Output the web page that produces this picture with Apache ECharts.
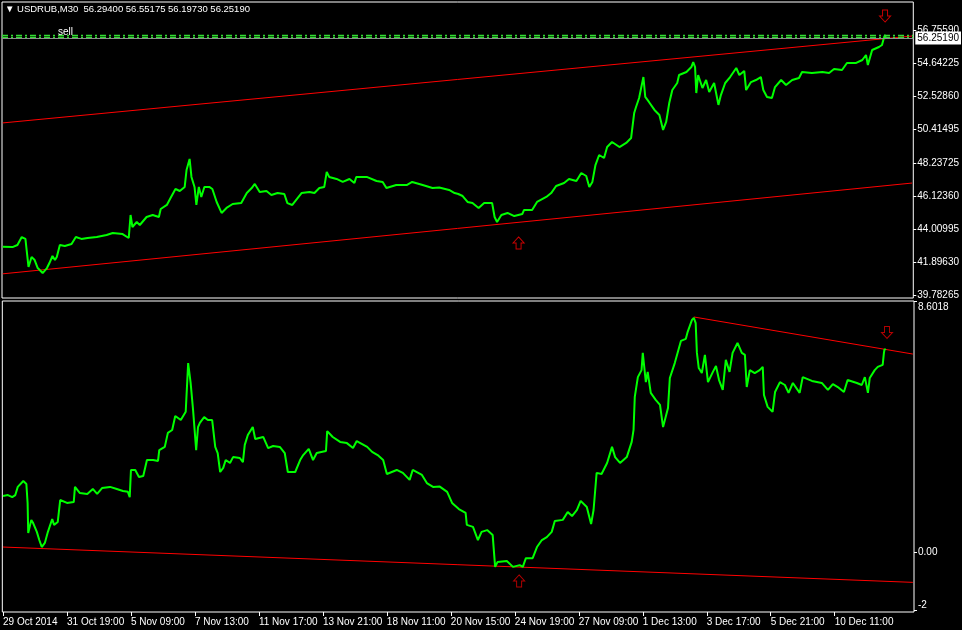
<!DOCTYPE html>
<html>
<head>
<meta charset="utf-8">
<style>
html,body{margin:0;padding:0;background:#000;}
#c{width:962px;height:630px;}
</style>
<script src="https://cdn.jsdelivr.net/npm/echarts@6.0.0/dist/echarts.min.js"></script>
</head>
<body>
<div id="c"></div>
<script>
// ---- data ----
const xLabels = ['29 Oct 2014','31 Oct 19:00','5 Nov 09:00','7 Nov 13:00','11 Nov 17:00','13 Nov 21:00','18 Nov 11:00','20 Nov 15:00','24 Nov 19:00','27 Nov 09:00','1 Dec 13:00','3 Dec 17:00','5 Dec 21:00','10 Dec 11:00'];
const barsPerLabel = 104;
const priceTicks = [56.75590,54.64225,52.52860,50.41495,48.23725,46.12360,44.00995,41.89630,39.78265];
const oscTicks = [8.6018, 0, -2];
const oscTickLabels = ['8.6018','0.00','-2'];

const priceBars = [0,16,24,31,37,39,42,47,52,57,65,72,76,81,85,88,93,101,112,119,128,138,153,169,179,195,205,208,211,218,223,234,244,254,257,267,273,281,288,296,299,304,307,312,315,319,323,328,336,341,348,356,364,374,388,397,405,410,418,429,437,447,458,463,471,486,499,507,515,523,527,531,543,553,564,572,575,592,608,618,624,640,657,666,683,699,710,726,735,741,748,756,764,774,783,796,800,804,811,821,832,845,848,861,869,884,892,900,913,921,933,941,949,954,959,964,970,978,983,991,1003,1014,1022,1024,1027,1030,1035,1042,1045,1051,1060,1068,1074,1079,1084,1089,1097,1100,1112,1120,1123,1126,1128,1131,1138,1144,1149,1157,1164,1168,1175,1183,1193,1198,1206,1209,1217,1225,1233,1237,1243,1251,1256,1266,1274,1284,1295,1300,1316,1333,1344,1352,1365,1373,1388,1398,1404,1407,1414,1425,1430,1433,1435,1436];
const priceValues = [42.91,42.89,43.02,43.53,43.41,42.70,41.62,42.26,42.06,41.55,41.23,41.55,41.87,42.32,42.06,42.26,43.02,42.96,43.09,43.53,43.41,43.47,43.53,43.66,43.79,43.72,43.47,44.94,44.17,44.49,44.30,44.81,44.94,44.81,45.32,45.58,46.02,46.60,46.47,46.73,47.81,48.52,47.37,46.73,45.58,46.73,46.09,46.73,46.73,46.60,45.77,45.07,45.39,45.64,45.70,46.34,46.66,46.92,46.41,46.47,46.22,46.34,46.28,45.70,45.58,46.34,46.41,46.34,46.66,46.73,47.69,47.37,47.24,47.05,47.24,46.98,47.37,47.37,47.11,47.05,46.66,46.85,46.85,47.05,46.85,46.66,46.69,46.54,46.34,46.28,46.15,45.77,45.70,45.39,45.70,45.70,44.81,44.49,44.94,45.07,44.87,45.00,45.26,45.26,45.77,46.09,46.34,46.79,46.98,47.24,47.11,47.62,47.43,46.73,47.05,48.13,48.77,48.58,49.28,49.60,49.28,49.54,49.86,50.50,51.45,51.84,52.41,53.75,52.48,52.16,51.65,51.33,50.37,50.88,52.09,52.92,53.37,53.88,54.07,54.39,54.71,54.39,52.73,53.88,53.05,53.56,52.80,53.37,51.97,52.60,53.37,53.75,54.33,53.88,54.14,52.92,53.43,53.56,53.75,52.92,52.48,52.41,53.11,53.56,53.24,53.56,53.69,54.07,54.01,54.07,54.01,54.26,54.20,54.65,54.65,54.84,55.16,54.52,55.48,55.67,55.80,56.25,56.44,56.25];

const oscBars = [0,8,15,20,24,33,38,40,41,46,49,55,59,63,68,73,80,83,89,93,104,115,117,125,137,146,153,161,174,185,195,203,206,208,215,221,228,234,244,252,254,263,268,275,280,289,297,301,305,309,314,317,320,327,333,340,345,349,353,358,362,369,374,385,390,393,398,406,410,423,431,439,450,458,463,475,483,488,497,504,510,525,527,536,548,559,569,575,592,600,609,618,624,640,650,661,666,681,689,699,710,722,730,741,743,752,754,764,772,778,787,796,800,804,819,829,840,845,850,861,868,876,884,892,897,910,918,925,933,939,949,956,960,965,973,982,990,995,1003,1014,1022,1025,1027,1032,1038,1040,1045,1048,1053,1061,1068,1073,1081,1084,1092,1097,1102,1110,1113,1120,1123,1126,1128,1131,1136,1141,1146,1154,1159,1164,1170,1175,1181,1186,1194,1201,1206,1209,1214,1222,1230,1235,1237,1243,1251,1255,1263,1271,1277,1284,1295,1300,1315,1331,1341,1349,1357,1367,1373,1388,1396,1401,1406,1409,1417,1422,1430,1432,1433,1435];
const oscValues = [1.93,1.96,1.89,1.96,2.24,2.44,2.34,1.69,0.66,1.11,1.00,0.70,0.42,0.18,0.32,0.70,1.14,0.94,1.04,1.79,1.69,1.72,2.24,2.03,2.00,2.17,2.00,2.20,2.24,2.17,2.10,2.07,1.89,2.82,2.82,2.58,2.61,3.16,3.16,3.13,3.50,3.61,4.09,4.19,4.67,4.53,4.81,6.48,5.80,4.87,3.50,4.29,4.43,4.63,4.53,4.53,3.61,3.40,2.75,2.89,3.16,3.06,3.26,3.23,3.09,3.68,4.02,4.29,3.88,3.95,3.57,3.64,3.61,3.40,2.75,2.75,3.16,3.33,3.54,3.16,3.40,3.47,4.15,3.95,3.78,3.74,3.57,3.81,3.61,3.44,3.33,3.16,2.68,2.82,2.72,2.48,2.82,2.65,2.37,2.24,2.25,2.07,1.69,1.48,1.45,1.35,0.94,0.87,0.42,0.70,0.76,0.59,-0.50,-0.33,-0.30,-0.50,-0.44,-0.50,-0.20,-0.20,0.18,0.42,0.52,0.70,1.07,1.11,1.38,1.24,1.45,1.76,1.55,0.97,1.45,2.72,2.68,3.06,3.61,3.26,3.06,3.26,3.78,4.19,5.32,6.00,6.24,6.83,5.83,6.18,5.46,5.22,5.05,4.29,4.94,5.97,6.48,6.86,7.24,7.31,7.55,7.96,8.03,7.85,6.83,6.31,6.14,6.76,5.83,6.18,6.38,5.90,5.56,6.59,6.18,6.83,7.17,6.83,6.76,5.66,6.24,6.14,6.24,6.35,5.39,4.98,4.81,5.49,5.83,5.73,5.46,5.80,5.46,6.00,5.87,5.80,5.56,5.76,5.66,5.49,5.90,5.80,5.73,6.00,5.46,5.97,6.24,6.35,6.42,6.83,6.96,6.93];

// trend lines [bar, value]
const priceUpperLine = [[0, 50.82], [1479, 56.37]];
const priceLowerLine = [[0, 41.18], [1479, 46.98]];
const oscLowerLine = [[0, 0.18], [1479, -1.03]];
const oscUpperLine = [[1123, 8.06], [1479, 6.79]];

// signal arrows
const priceArrowBars = [1435, 839];
const priceArrowValues = [57.65, 43.15];
const oscArrowBars = [1437, 839];
const oscArrowValues = [7.53, -0.98];
const arrowDirs = ['down', 'up'];

// horizontal price levels
const bidPrice = 56.2519;
const sellLevels = [56.4435, 56.3158];

// ---- chart ----
const FONT = 'Liberation Sans';
const xTicks = xLabels.map((_, i) => i * barsPerLabel);
const zip = (a, b) => a.map((v, i) => [v, b[i]]);
const arrowPath = 'path://M5.5,0 L11,6 L8,6 L8,12 L3,12 L3,6 L0,6 Z';
const arrowData = (bars, vals) => bars.map((b, i) => ({
  value: [b, vals[i]],
  symbolRotate: arrowDirs[i] === 'down' ? 180 : 0
}));

const xMin = -1.1, xMax = 1480.9;

const chart = echarts.init(document.getElementById('c'), null, {renderer: 'canvas'});
chart.setOption({
  backgroundColor: '#000',
  animation: false,
  textStyle: {fontFamily: FONT},
  title: [
    {text: '\u25BC USDRUB,M30  56.29400 56.55175 56.19730 56.25190', left: 5, top: 4, padding: 0,
     textStyle: {color: '#fff', fontSize: 9.5, fontWeight: 'normal', fontFamily: FONT}},
    {text: 'sell', left: 58, top: 27, padding: 0,
     textStyle: {color: '#fff', fontSize: 10, fontWeight: 'normal', fontFamily: FONT}}
  ],
  grid: [
    {left: 2, top: 2, width: 912, height: 296, show: true, borderColor: '#fff', borderWidth: 1, backgroundColor: '#000'},
    {left: 2, top: 301, width: 912, height: 311, show: true, borderColor: '#fff', borderWidth: 1, backgroundColor: '#000'}
  ],
  xAxis: [
    {gridIndex: 0, type: 'value', min: xMin, max: xMax, show: false},
    {gridIndex: 1, type: 'value', min: xMin, max: xMax, position: 'bottom',
     axisLine: {show: false, onZero: false}, splitLine: {show: false},
     axisTick: {show: true, customValues: xTicks, length: 4, lineStyle: {color: '#fff'}},
     axisLabel: {customValues: xTicks, color: '#fff', fontSize: 10, fontFamily: FONT, align: 'left', margin: 5,
       formatter: v => xLabels[Math.round(v / barsPerLabel)]}}
  ],
  yAxis: [
    {gridIndex: 0, type: 'value', position: 'right', min: 39.636, max: 58.5446,
     axisLine: {show: false, onZero: false}, splitLine: {show: false},
     axisTick: {show: true, customValues: priceTicks, length: 3, lineStyle: {color: '#fff'}},
     axisLabel: {customValues: priceTicks, color: '#fff', fontSize: 10, fontFamily: FONT, margin: 4,
       formatter: v => v.toFixed(5)}},
    {gridIndex: 1, type: 'value', position: 'right', min: -2.045, max: 8.607,
     axisLine: {show: false, onZero: false}, splitLine: {show: false},
     axisTick: {show: true, customValues: oscTicks, length: 3, lineStyle: {color: '#fff'}},
     axisLabel: {customValues: oscTicks, color: '#fff', fontSize: 10, fontFamily: FONT, margin: 4,
       formatter: v => {
         let i = oscTicks.findIndex(t => Math.abs(t - v) < 1e-6);
         const s = oscTickLabels[i];
         if (i === 0) return '{t|' + s + '}';
         if (i === 2) return '{b|' + s + '}';
         return s;
       },
       rich: {
         t: {padding: [12, 0, 0, 0], color: '#fff', fontSize: 10, fontFamily: FONT},
         b: {padding: [0, 0, 10, 0], color: '#fff', fontSize: 10, fontFamily: FONT}
       }}}
  ],
  series: [
    {type: 'line', xAxisIndex: 0, yAxisIndex: 0, data: priceUpperLine, showSymbol: false, silent: true,
     lineStyle: {color: '#ff0000', width: 1}, z: 2},
    {type: 'line', xAxisIndex: 0, yAxisIndex: 0, data: priceLowerLine, showSymbol: false, silent: true,
     lineStyle: {color: '#ff0000', width: 1}, z: 2},
    {type: 'line', xAxisIndex: 0, yAxisIndex: 0, data: zip(priceBars, priceValues), showSymbol: false,
     sampling: false, lineStyle: {color: '#00ff00', width: 2}, itemStyle: {color: '#00ff00'}, z: 3,
     markLine: {symbol: 'none', silent: true, animation: false,
       data: [
         {yAxis: sellLevels[0], lineStyle: {color: '#33dd33', type: [6, 3, 2, 3], width: 1.3}, label: {show: false}},
         {yAxis: sellLevels[1], lineStyle: {color: '#33dd33', type: [6, 3, 2, 3], width: 1.3}, label: {show: false}},
         {yAxis: bidPrice, lineStyle: {color: '#8c8c8c', type: 'solid', width: 1},
          label: {show: true, position: 'end', distance: 2, formatter: '56.25190', color: '#000',
                  backgroundColor: '#fff', padding: [2, 2, 1, 2], fontSize: 10, fontFamily: FONT}}
       ]}},
    {type: 'scatter', xAxisIndex: 0, yAxisIndex: 0, data: arrowData(priceArrowBars, priceArrowValues),
     symbol: arrowPath, symbolSize: [11, 12], silent: true, z: 5,
     itemStyle: {color: '#000', borderColor: '#ff0000', borderWidth: 1}},

    {type: 'line', xAxisIndex: 1, yAxisIndex: 1, data: oscLowerLine, showSymbol: false, silent: true,
     lineStyle: {color: '#ff0000', width: 1}, z: 2},
    {type: 'line', xAxisIndex: 1, yAxisIndex: 1, data: oscUpperLine, showSymbol: false, silent: true,
     lineStyle: {color: '#ff0000', width: 1}, z: 2},
    {type: 'line', xAxisIndex: 1, yAxisIndex: 1, data: zip(oscBars, oscValues), showSymbol: false,
     sampling: false, lineStyle: {color: '#00ff00', width: 2}, itemStyle: {color: '#00ff00'}, z: 3},
    {type: 'scatter', xAxisIndex: 1, yAxisIndex: 1, data: arrowData(oscArrowBars, oscArrowValues),
     symbol: arrowPath, symbolSize: [11, 12], silent: true, z: 5,
     itemStyle: {color: '#000', borderColor: '#e00000', borderWidth: 1}}
  ]
});
</script>
</body>
</html>
